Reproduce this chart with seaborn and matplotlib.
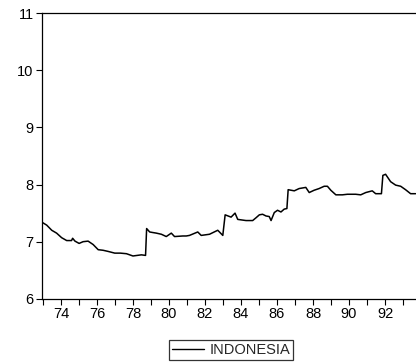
import matplotlib
matplotlib.use("Agg")
import matplotlib.pyplot as plt
import seaborn as sns
import pandas as pd
from matplotlib.ticker import MultipleLocator

# Series: INDONESIA, year (two-digit, fractional) vs. value
years = [72.95, 73.21, 73.49, 73.76, 74.04, 74.32, 74.59, 74.65, 74.78, 75.01,
         75.23, 75.51, 75.79, 76.07, 76.34, 76.62, 76.99, 77.30, 77.64, 78.00,
         78.47, 78.70, 78.76, 78.93, 79.11, 79.30, 79.58, 79.85, 80.13, 80.31,
         80.77, 80.96, 81.14, 81.60, 81.79, 82.25, 82.71, 82.99, 83.12, 83.45,
         83.67, 83.82, 84.28, 84.65, 84.84, 85.02, 85.20, 85.39, 85.57, 85.67,
         85.85, 86.03, 86.22, 86.40, 86.55, 86.62, 86.96, 87.23, 87.60, 87.79,
         88.06, 88.34, 88.62, 88.80, 88.99, 89.27, 89.63, 89.91, 90.37, 90.65,
         90.93, 91.29, 91.48, 91.80, 91.88, 92.03, 92.31, 92.59, 92.87, 93.14,
         93.42, 93.70]
values = [7.34, 7.29, 7.20, 7.15, 7.07, 7.02, 7.02, 7.06, 7.01, 6.97,
          7.00, 7.01, 6.95, 6.86, 6.85, 6.83, 6.80, 6.80, 6.79, 6.75,
          6.77, 6.76, 7.23, 7.17, 7.16, 7.15, 7.13, 7.09, 7.15, 7.09,
          7.10, 7.10, 7.11, 7.17, 7.11, 7.13, 7.20, 7.11, 7.47, 7.43,
          7.50, 7.39, 7.37, 7.37, 7.42, 7.47, 7.48, 7.45, 7.44, 7.37,
          7.51, 7.55, 7.52, 7.57, 7.58, 7.91, 7.89, 7.93, 7.95, 7.86,
          7.90, 7.93, 7.97, 7.97, 7.90, 7.82, 7.82, 7.83, 7.83, 7.82,
          7.86, 7.89, 7.84, 7.84, 8.16, 8.18, 8.05, 7.99, 7.97, 7.91,
          7.84, 7.84]
series_name = "INDONESIA"
x_ticks = [74, 76, 78, 80, 82, 84, 86, 88, 90, 92]
y_ticks = [6, 7, 8, 9, 10, 11]

df = pd.DataFrame({"year": years, "value": values, "series": series_name})

sns.set_style("ticks")
plt.rcParams["font.family"] = ["Liberation Sans", "DejaVu Sans"]

fig = plt.figure(figsize=(4.16, 3.64), dpi=100)
ax = fig.add_axes([0.101, 0.179, 0.899, 0.785])

sns.lineplot(data=df, x="year", y="value", hue="series", palette=["black"],
             linewidth=1.1, ax=ax, legend=False, sort=False)

ax.set_xlim(72.95, 93.72)
ax.set_ylim(6, 11)
ax.set_xticks(x_ticks)
ax.set_xticklabels([str(t) for t in x_ticks])
ax.xaxis.set_minor_locator(MultipleLocator(1))
ax.set_yticks(y_ticks)
ax.set_yticklabels([str(t) for t in y_ticks])
ax.set_xlabel("")
ax.set_ylabel("")

for side in ["left", "bottom", "top"]:
    ax.spines[side].set_visible(True)
    ax.spines[side].set_linewidth(0.9)
    ax.spines[side].set_color("black")
ax.spines["right"].set_visible(False)

ax.tick_params(axis="both", which="both", direction="out", length=4,
               width=0.8, colors="black", labelsize=10.5, pad=2)
ax.tick_params(axis="x", which="both", top=False)
ax.tick_params(axis="y", which="both", right=False)

handle = plt.Line2D([], [], color="black", linewidth=1.0)
leg = fig.legend([handle], [series_name], loc="center",
                 bbox_to_anchor=(0.555, 0.038), frameon=True, fancybox=False,
                 fontsize=10.5, handlelength=2.2, handletextpad=0.4,
                 borderpad=0.2, borderaxespad=0)
leg.get_frame().set_edgecolor("black")
leg.get_frame().set_linewidth(0.9)

fig.savefig("out.png", dpi=100)
